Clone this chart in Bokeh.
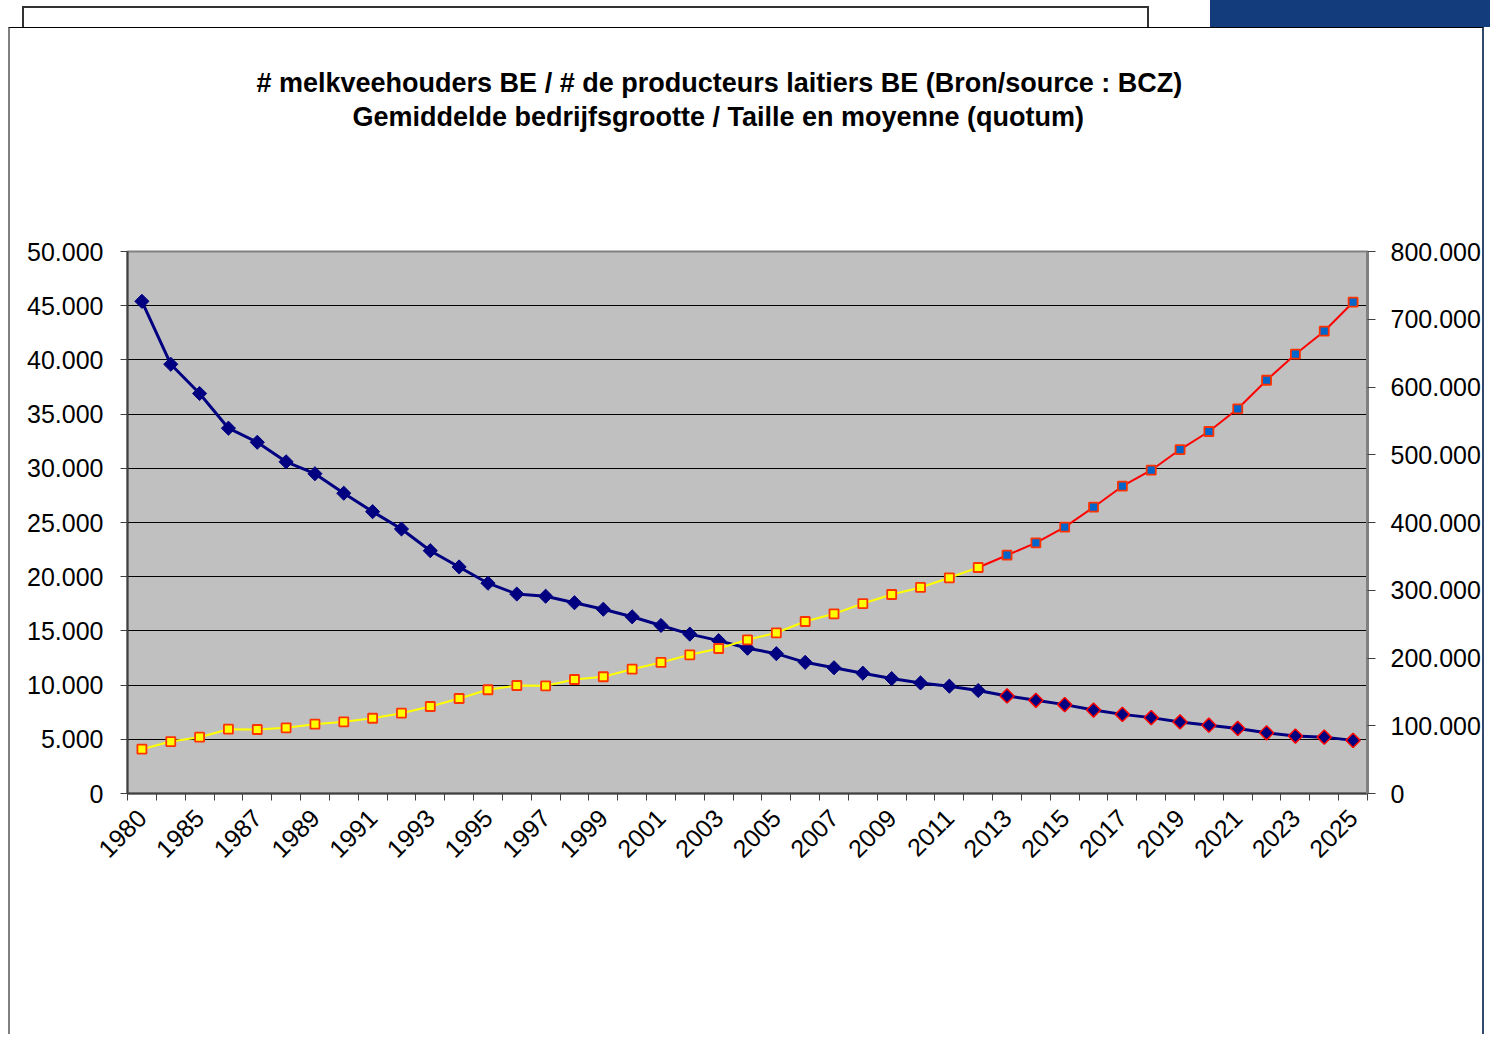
import math
from bokeh.plotting import figure
from bokeh.models import ColumnDataSource, LinearAxis, Range1d, FixedTicker, Div, Title
from bokeh.layouts import column
from bokeh.embed import file_html
from bokeh.resources import INLINE

# ---------------- data ----------------
years = ["1980", "1984", "1985", "1986", "1987", "1988", "1989", "1990", "1991", "1992",
         "1993", "1994", "1995", "1996", "1997", "1998", "1999", "2000", "2001", "2002",
         "2003", "2004", "2005", "2006", "2007", "2008", "2009", "2010", "2011", "2012",
         "2013", "2014", "2015", "2016", "2017", "2018", "2019", "2020", "2021", "2022",
         "2023", "2024", "2025"]

# number of dairy farmers (left axis)
farmers = [45400, 39600, 36900, 33700, 32400, 30600, 29500, 27700, 26000, 24400,
           22400, 20900, 19400, 18400, 18200, 17600, 17000, 16300, 15500, 14700,
           14100, 13400, 12900, 12100, 11600, 11100, 10600, 10200, 9900, 9500,
           9000, 8600, 8200, 7700, 7300, 7000, 6600, 6300, 6000, 5600,
           5300, 5200, 4900]

# average farm size / quota (right axis)
farm_size = [65400, 76700, 83100, 94900, 94500, 97000, 102300, 105800, 111100, 118500,
             128400, 140200, 153100, 159400, 159000, 168300, 172300, 183500, 193400, 204700,
             214000, 226900, 237200, 253900, 265200, 280400, 293700, 304100, 318400, 333600,
             351700, 370000, 393100, 422600, 453600, 477200, 507700, 534300, 567800, 610000,
             648400, 682400, 725200]

last_actual_year = "2012"

left_ticks = [0, 5000, 10000, 15000, 20000, 25000, 30000, 35000, 40000, 45000, 50000]
right_ticks = [0, 100000, 200000, 300000, 400000, 500000, 600000, 700000, 800000]

title_line1 = "# melkveehouders BE / # de producteurs laitiers BE (Bron/source : BCZ)"
title_line2 = "Gemiddelde bedrijfsgrootte / Taille en moyenne (quotum)"

# ---------------- helpers ----------------
def fmt(v):
    return "{:,}".format(v).replace(",", ".")

n = len(years)
idx = list(range(n))
k = years.index(last_actual_year)

src_all = ColumnDataSource(dict(x=idx, farmers=farmers, size=farm_size))
src_hist = ColumnDataSource(dict(x=idx[:k + 1], farmers=farmers[:k + 1], size=farm_size[:k + 1]))
src_proj_line = ColumnDataSource(dict(x=idx[k:], farmers=farmers[k:], size=farm_size[k:]))
src_proj = ColumnDataSource(dict(x=idx[k + 1:], farmers=farmers[k + 1:], size=farm_size[k + 1:]))

FONT = "Liberation Sans"
TICK_SIZE = "25px"

p = figure(width=1476, height=1007, output_backend="svg", toolbar_location=None,
           x_range=Range1d(-0.5, n - 0.5), y_range=Range1d(0, 50000),
           min_border_left=117, min_border_right=119, min_border_top=223, min_border_bottom=242,
           background_fill_color="#C0C0C0", border_fill_color="white",
           outline_line_color="#808080", outline_line_width=2)
p.margin = (0, 0, 0, 8)
p.extra_y_ranges = {"size": Range1d(0, 800000)}

# titles: spacer nearest the frame, then line 2, then line 1
p.title.visible = False
spacer = Title(text=" ", text_font_size="10px", standoff=107)
t2 = Title(text=title_line2, align="left", offset=225, standoff=0,
           text_font=FONT, text_font_style="bold", text_font_size="27px",
           text_color="#000000")
t1 = Title(text=title_line1, align="left", offset=129, standoff=4,
           text_font=FONT, text_font_style="bold", text_font_size="27px",
           text_color="#000000")
p.add_layout(spacer, "above")
p.add_layout(t2, "above")
p.add_layout(t1, "above")

# grid
p.xgrid.grid_line_color = None
p.ygrid.ticker = FixedTicker(ticks=left_ticks)
p.ygrid.grid_line_color = "#000000"
p.ygrid.grid_line_width = 1

# left axis
ya = p.yaxis[0]
ya.ticker = FixedTicker(ticks=left_ticks)
ya.major_label_overrides = {v: fmt(v) for v in left_ticks}
ya.major_label_text_font = FONT
ya.major_label_text_font_size = TICK_SIZE
ya.major_label_text_color = "#000000"
ya.major_label_standoff = 17
ya.axis_line_color = "#404040"
ya.axis_line_width = 2
ya.major_tick_line_color = "#404040"
ya.major_tick_out = 7
ya.major_tick_in = 0
ya.minor_tick_line_color = None

# right axis
ra = LinearAxis(y_range_name="size", ticker=FixedTicker(ticks=right_ticks))
ra.major_label_overrides = {v: fmt(v) for v in right_ticks}
ra.major_label_text_font = FONT
ra.major_label_text_font_size = TICK_SIZE
ra.major_label_text_color = "#000000"
ra.major_label_standoff = 15
ra.axis_line_color = "#808080"
ra.axis_line_width = 3
ra.major_tick_line_color = "#404040"
ra.major_tick_out = 8
ra.major_tick_in = 0
ra.minor_tick_line_color = None
p.add_layout(ra, "right")

# bottom axis
xa = p.xaxis[0]
xa.ticker = FixedTicker(ticks=idx[::2], minor_ticks=[i - 0.5 for i in range(n + 1)])
xa.major_label_overrides = {i: years[i] for i in idx[::2]}
xa.major_label_orientation = math.pi / 4
xa.major_label_text_font = FONT
xa.major_label_text_font_size = TICK_SIZE
xa.major_label_text_color = "#000000"
xa.major_label_standoff = 13
xa.major_tick_line_color = None
xa.major_tick_out = 7
xa.major_tick_in = 0
xa.minor_tick_line_color = "#404040"
xa.minor_tick_out = 7
xa.minor_tick_in = 0
xa.axis_line_color = "#404040"
xa.axis_line_width = 2

# number of farmers (navy, diamonds)
p.line("x", "farmers", source=src_all, line_color="#000080", line_width=3)
p.scatter("x", "farmers", source=src_hist, marker="square", angle=math.pi / 4, size=10,
          fill_color="#000080", line_color="#000080", line_width=1)
p.scatter("x", "farmers", source=src_proj, marker="square", angle=math.pi / 4, size=10,
          fill_color="#000080", line_color="#FF0000", line_width=1.5)

# average size (yellow -> red)
p.line("x", "size", source=src_hist, y_range_name="size", line_color="#FFFF00", line_width=2)
p.line("x", "size", source=src_proj_line, y_range_name="size", line_color="#FF0000", line_width=2)
p.scatter("x", "size", source=src_hist, y_range_name="size", marker="square", size=9,
          fill_color="#FFFF00", line_color="#FF3300", line_width=1.8)
p.scatter("x", "size", source=src_proj, y_range_name="size", marker="square", size=9,
          fill_color="#0066CC", line_color="#FF3300", line_width=1.8)

p.styles = {"border-top": "1px solid #000000",
            "border-left": "2px solid #808080",
            "border-right": "2px solid #34496e"}

top = Div(width=1490, height=27, margin=0, text=(
    '<div style="position:relative;width:1490px;height:27px;">'
    '<div style="position:absolute;left:22px;top:6px;width:1127px;height:21px;'
    'border:2px solid #333333;border-bottom:none;box-sizing:border-box;"></div>'
    '<div style="position:absolute;left:1210px;top:0px;width:280px;height:27px;'
    'background:#133C7C;"></div>'
    '</div>'))

layout = column(top, p, spacing=0)

open("out.html", "w").write(file_html(layout, INLINE))
